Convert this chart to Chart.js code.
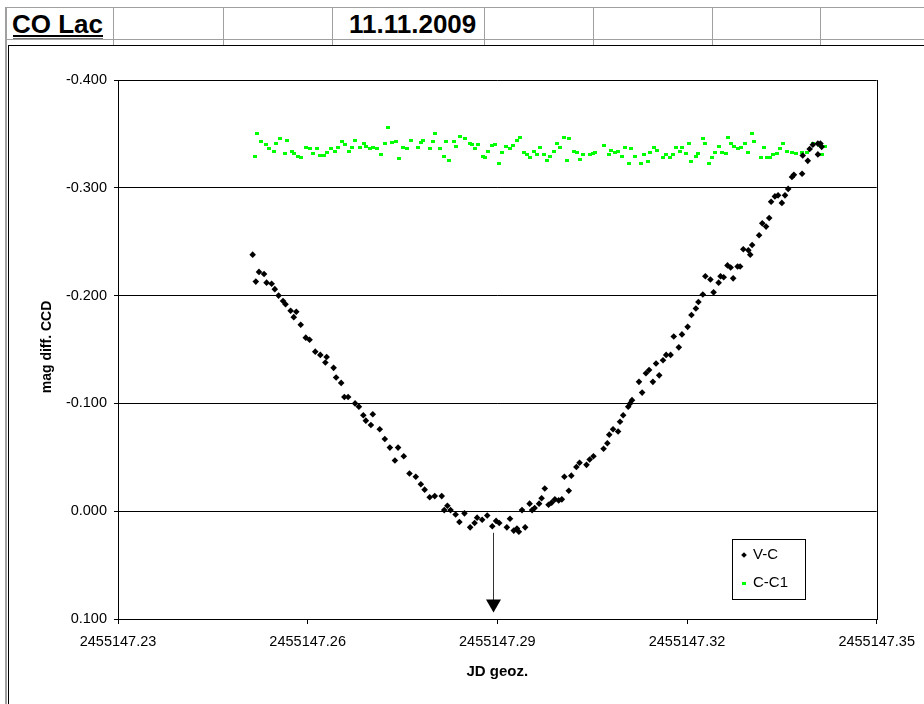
<!DOCTYPE html>
<html>
<head>
<meta charset="utf-8">
<script src="https://cdn.jsdelivr.net/npm/chart.js@4.4.0/dist/chart.umd.min.js"></script>
<style>
html, body { margin: 0; padding: 0; background: #fff; }
#page { position: relative; width: 924px; height: 704px; overflow: hidden; font-family: Arial, 'Liberation Sans', sans-serif; }
.ln { position: absolute; background: #a0a0a0; }
.blk { position: absolute; background: #000; }
.cell { position: absolute; font-weight: bold; font-size: 26px; line-height: 26px; color: #000; white-space: nowrap; }
#wrap { position: absolute; left: 9px; top: 46px; }
</style>
</head>
<body>
<div id="page">
  <div class="cell" style="left:12px; top:11px;">CO Lac</div>
  <div class="blk" style="left:13px; top:35px; width:90px; height:2px;"></div>
  <div class="ln" style="left:13px; top:38px; width:90px; height:1px; background:#707070;"></div>
  <div class="cell" style="left:349px; top:11px;">11.11.2009</div>
  <div id="wrap"><canvas id="c" width="915" height="658"></canvas></div>
</div>
<script>
// sheet header / chart title cells
const sheetCols = [113, 223, 332, 484, 593, 712, 820];

// JD geoz. and magnitude differences
const vcJD = [
  2455147.2513, 2455147.2518, 2455147.2523, 2455147.2531, 2455147.2535, 2455147.2543, 2455147.2548, 2455147.2554, 2455147.2561, 2455147.2565,
  2455147.2573, 2455147.2578, 2455147.2582, 2455147.2589, 2455147.2597, 2455147.2603, 2455147.2612, 2455147.2620, 2455147.2628, 2455147.2630,
  2455147.2641, 2455147.2645, 2455147.2653, 2455147.2658, 2455147.2664, 2455147.2675, 2455147.2681, 2455147.2688, 2455147.2692, 2455147.2700,
  2455147.2703, 2455147.2714, 2455147.2722, 2455147.2730, 2455147.2738, 2455147.2743, 2455147.2752, 2455147.2761, 2455147.2771, 2455147.2779,
  2455147.2785, 2455147.2793, 2455147.2801, 2455147.2812, 2455147.2816, 2455147.2821, 2455147.2826, 2455147.2834, 2455147.2840, 2455147.2848,
  2455147.2857, 2455147.2864, 2455147.2868, 2455147.2876, 2455147.2884, 2455147.2892, 2455147.2898, 2455147.2903, 2455147.2915, 2455147.2920,
  2455147.2926, 2455147.2931, 2455147.2934, 2455147.2939, 2455147.2944, 2455147.2951, 2455147.2955, 2455147.2959, 2455147.2966, 2455147.2970,
  2455147.2975, 2455147.2981, 2455147.2986, 2455147.2991, 2455147.2997, 2455147.3002, 2455147.3006, 2455147.3013, 2455147.3017, 2455147.3025,
  2455147.3030, 2455147.3041, 2455147.3046, 2455147.3052, 2455147.3068, 2455147.3074, 2455147.3077, 2455147.3083, 2455147.3091, 2455147.3094,
  2455147.3099, 2455147.3107, 2455147.3110, 2455147.3113, 2455147.3124, 2455147.3129, 2455147.3135, 2455147.3140, 2455147.3146, 2455147.3151,
  2455147.3156, 2455147.3162, 2455147.3167, 2455147.3174, 2455147.3179, 2455147.3187, 2455147.3192, 2455147.3201, 2455147.3207, 2455147.3214,
  2455147.3218, 2455147.3225, 2455147.3229, 2455147.3237, 2455147.3242, 2455147.3250, 2455147.3253, 2455147.3258, 2455147.3264, 2455147.3269,
  2455147.3273, 2455147.3280, 2455147.3284, 2455147.3289, 2455147.3297, 2455147.3300, 2455147.3303, 2455147.3314, 2455147.3319, 2455147.3325,
  2455147.3330, 2455147.3333, 2455147.3339, 2455147.3344, 2455147.3350, 2455147.3355, 2455147.3360, 2455147.3366, 2455147.3369, 2455147.3382,
  2455147.3383, 2455147.3391, 2455147.3394, 2455147.3399, 2455147.3407, 2455147.3407, 2455147.3411, 2455147.3413
];
const vcMag = [
  -0.238, -0.213, -0.222, -0.220, -0.212, -0.211, -0.206, -0.200, -0.195, -0.192,
  -0.186, -0.180, -0.185, -0.173, -0.161, -0.159, -0.148, -0.145, -0.138, -0.143,
  -0.133, -0.124, -0.119, -0.106, -0.106, -0.100, -0.097, -0.089, -0.084, -0.080,
  -0.090, -0.076, -0.067, -0.059, -0.047, -0.059, -0.051, -0.035, -0.032, -0.025,
  -0.020, -0.013, -0.014, -0.014, -0.001, -0.005, -0.001, 0.003, 0.010, 0.002,
  0.015, 0.011, 0.006, 0.008, 0.004, 0.014, 0.009, 0.011, 0.015, 0.007,
  0.018, 0.016, 0.019, -0.001, 0.015, -0.007, -0.001, -0.003, -0.007, -0.012,
  -0.021, -0.006, -0.008, -0.011, -0.010, -0.011, -0.032, -0.019, -0.033, -0.041,
  -0.045, -0.043, -0.048, -0.051, -0.058, -0.063, -0.071, -0.076, -0.074, -0.083,
  -0.089, -0.097, -0.100, -0.103, -0.120, -0.110, -0.128, -0.131, -0.120, -0.137,
  -0.126, -0.140, -0.145, -0.145, -0.162, -0.152, -0.164, -0.171, -0.182, -0.188,
  -0.194, -0.201, -0.218, -0.215, -0.203, -0.212, -0.218, -0.217, -0.228, -0.226,
  -0.216, -0.227, -0.227, -0.243, -0.242, -0.238, -0.247, -0.256, -0.267, -0.264,
  -0.272, -0.287, -0.292, -0.293, -0.286, -0.293, -0.299, -0.310, -0.312, -0.313,
  -0.330, -0.325, -0.336, -0.340, -0.341, -0.331, -0.341, -0.338
];

const ccJD = [
  2455147.2516, 2455147.2520, 2455147.2526, 2455147.2534, 2455147.2539, 2455147.2546, 2455147.2550, 2455147.2557, 2455147.2564, 2455147.2567,
  2455147.2575, 2455147.2579, 2455147.2584, 2455147.2590, 2455147.2597, 2455147.2603, 2455147.2608, 2455147.2614, 2455147.2620, 2455147.2626,
  2455147.2631, 2455147.2637, 2455147.2644, 2455147.2648, 2455147.2655, 2455147.2659, 2455147.2666, 2455147.2670, 2455147.2675, 2455147.2683,
  2455147.2689, 2455147.2692, 2455147.2699, 2455147.2703, 2455147.2710, 2455147.2716, 2455147.2722, 2455147.2727, 2455147.2733, 2455147.2739,
  2455147.2744, 2455147.2750, 2455147.2757, 2455147.2763, 2455147.2774, 2455147.2780, 2455147.2783, 2455147.2793, 2455147.2798, 2455147.2802,
  2455147.2809, 2455147.2815, 2455147.2818, 2455147.2824, 2455147.2832, 2455147.2835, 2455147.2841, 2455147.2849, 2455147.2856, 2455147.2860,
  2455147.2865, 2455147.2870, 2455147.2878, 2455147.2881, 2455147.2886, 2455147.2892, 2455147.2897, 2455147.2903, 2455147.2907, 2455147.2914,
  2455147.2920, 2455147.2925, 2455147.2931, 2455147.2936, 2455147.2942, 2455147.2947, 2455147.2951, 2455147.2958, 2455147.2962, 2455147.2967,
  2455147.2973, 2455147.2978, 2455147.2983, 2455147.2989, 2455147.2994, 2455147.2999, 2455147.3005, 2455147.3010, 2455147.3014, 2455147.3021,
  2455147.3026, 2455147.3030, 2455147.3036, 2455147.3046, 2455147.3052, 2455147.3055, 2455147.3069, 2455147.3077, 2455147.3080, 2455147.3086,
  2455147.3091, 2455147.3097, 2455147.3102, 2455147.3108, 2455147.3111, 2455147.3118, 2455147.3127, 2455147.3132, 2455147.3138, 2455147.3141,
  2455147.3148, 2455147.3152, 2455147.3162, 2455147.3167, 2455147.3173, 2455147.3178, 2455147.3182, 2455147.3189, 2455147.3192, 2455147.3199,
  2455147.3203, 2455147.3207, 2455147.3214, 2455147.3218, 2455147.3225, 2455147.3229, 2455147.3234, 2455147.3240, 2455147.3244, 2455147.3250,
  2455147.3256, 2455147.3261, 2455147.3265, 2455147.3270, 2455147.3275, 2455147.3281, 2455147.3286, 2455147.3292, 2455147.3297, 2455147.3302,
  2455147.3306, 2455147.3317, 2455147.3321, 2455147.3327, 2455147.3331, 2455147.3336, 2455147.3343, 2455147.3347, 2455147.3352, 2455147.3358,
  2455147.3366, 2455147.3372, 2455147.3382, 2455147.3389, 2455147.3399, 2455147.3410, 2455147.3413, 2455147.3419
];
const ccMag = [
  -0.329, -0.350, -0.343, -0.340, -0.336, -0.334, -0.341, -0.346, -0.332, -0.344,
  -0.334, -0.332, -0.329, -0.328, -0.337, -0.336, -0.332, -0.336, -0.330, -0.330,
  -0.333, -0.336, -0.334, -0.337, -0.343, -0.340, -0.334, -0.337, -0.344, -0.337,
  -0.341, -0.338, -0.336, -0.337, -0.336, -0.331, -0.341, -0.356, -0.342, -0.343,
  -0.327, -0.337, -0.336, -0.344, -0.337, -0.342, -0.344, -0.336, -0.343, -0.350,
  -0.336, -0.329, -0.343, -0.325, -0.343, -0.338, -0.348, -0.346, -0.341, -0.340,
  -0.336, -0.340, -0.329, -0.328, -0.334, -0.339, -0.340, -0.323, -0.333, -0.338,
  -0.336, -0.339, -0.344, -0.347, -0.333, -0.331, -0.328, -0.334, -0.331, -0.337,
  -0.331, -0.325, -0.329, -0.334, -0.341, -0.337, -0.347, -0.325, -0.346, -0.334,
  -0.333, -0.326, -0.331, -0.331, -0.332, -0.333, -0.339, -0.331, -0.335, -0.333,
  -0.334, -0.329, -0.337, -0.323, -0.336, -0.329, -0.323, -0.331, -0.324, -0.333,
  -0.337, -0.335, -0.328, -0.331, -0.328, -0.331, -0.337, -0.334, -0.337, -0.332,
  -0.341, -0.324, -0.329, -0.332, -0.346, -0.341, -0.323, -0.328, -0.333, -0.338,
  -0.333, -0.332, -0.347, -0.341, -0.338, -0.336, -0.337, -0.341, -0.333, -0.350,
  -0.343, -0.328, -0.337, -0.328, -0.328, -0.331, -0.332, -0.336, -0.341, -0.334,
  -0.333, -0.332, -0.333, -0.333, -0.341, -0.339, -0.331, -0.338
];

const xTicks = [2455147.23, 2455147.26, 2455147.29, 2455147.32, 2455147.35];
const yTicks = [-0.4, -0.3, -0.2, -0.1, 0.0, 0.1];

// minimum marker (arrow)
const arrowJD = 2455147.2893;
const arrowFrom = 0.020;
const arrowTip = 0.094;

// --- spreadsheet lines around the chart object
const page = document.getElementById('page');
function addLine(cls, l, t, w, h, bg) {
  const d = document.createElement('div');
  d.className = cls;
  d.style.left = l + 'px'; d.style.top = t + 'px';
  d.style.width = w + 'px'; d.style.height = h + 'px';
  if (bg) d.style.background = bg;
  page.insertBefore(d, page.firstChild);
}
addLine('ln', 6, 7, 918, 1);
addLine('ln', 6, 39, 918, 1);
addLine('ln', 5, 7, 2, 697);
sheetCols.forEach(x => addLine('ln', x, 7, 1, 38));
addLine('blk', 8, 45, 916, 1);
addLine('blk', 8, 45, 1, 659);

const FONT = "Arial, 'Liberation Sans', sans-serif";

// small flat green dash used by Excel for the C-C1 marker
const greenDash = document.createElement('canvas');
greenDash.width = 4; greenDash.height = 3;
(function () {
  const g = greenDash.getContext('2d');
  g.fillStyle = '#00ff00';
  g.fillRect(0, 0, 4, 3);
})();

const plotFrame = {
  id: 'plotFrame',
  afterDraw(chart) {
    const {ctx, chartArea: a} = chart;
    ctx.save();
    ctx.strokeStyle = '#000';
    ctx.lineWidth = 1;
    ctx.beginPath();
    ctx.moveTo(Math.round(a.right) + 0.5, Math.round(a.top));
    ctx.lineTo(Math.round(a.right) + 0.5, Math.round(a.bottom) + 1);
    ctx.stroke();
    ctx.restore();
  }
};

const yTitle = {
  id: 'yTitle',
  afterDraw(chart) {
    const ctx = chart.ctx;
    ctx.save();
    ctx.translate(38, 301);
    ctx.rotate(-Math.PI / 2);
    ctx.font = 'bold 14px ' + FONT;
    ctx.fillStyle = '#000';
    ctx.textAlign = 'center';
    ctx.textBaseline = 'middle';
    ctx.fillText('mag diff. CCD', 0, 0);
    ctx.restore();
  }
};

const arrowMark = {
  id: 'arrowMark',
  afterDatasetsDraw(chart) {
    const {ctx, scales: {x, y}} = chart;
    const px = Math.round(x.getPixelForValue(arrowJD)) + 0.5;
    const y0 = y.getPixelForValue(arrowFrom);
    const y1 = y.getPixelForValue(arrowTip);
    ctx.save();
    ctx.strokeStyle = '#333';
    ctx.lineWidth = 1;
    ctx.beginPath();
    ctx.moveTo(px, y0);
    ctx.lineTo(px, y1 - 12);
    ctx.stroke();
    ctx.fillStyle = '#000';
    ctx.beginPath();
    ctx.moveTo(px - 7.5, y1 - 13);
    ctx.lineTo(px + 7.5, y1 - 13);
    ctx.lineTo(px, y1);
    ctx.closePath();
    ctx.fill();
    ctx.restore();
  }
};

const legendBox = {
  id: 'legendBox',
  afterDraw(chart) {
    const ctx = chart.ctx;
    ctx.save();
    ctx.fillStyle = '#fff';
    ctx.fillRect(723, 493, 73, 60);
    ctx.strokeStyle = '#000';
    ctx.lineWidth = 1;
    ctx.strokeRect(723.5, 493.5, 73, 60);
    chart.data.datasets.forEach((ds, i) => {
      const yy = 509 + i * 28;
      ctx.fillStyle = ds.backgroundColor;
      Chart.helpers.drawPoint(ctx, {pointStyle: ds.pointStyle, radius: ds.pointRadius * 0.85, borderWidth: 0, rotation: 0}, 735, yy);
      ctx.fillStyle = '#000';
      ctx.font = '15px ' + FONT;
      ctx.textAlign = 'left';
      ctx.textBaseline = 'middle';
      ctx.fillText(ds.label, 744, yy);
    });
    ctx.restore();
  }
};

new Chart(document.getElementById('c'), {
  type: 'scatter',
  data: {
    datasets: [
      {
        label: 'V-C',
        data: vcJD.map((x, i) => ({x: x, y: vcMag[i]})),
        pointStyle: 'rectRot',
        pointRadius: 3.3,
        pointHoverRadius: 3.3,
        backgroundColor: '#000',
        borderWidth: 0
      },
      {
        label: 'C-C1',
        data: ccJD.map((x, i) => ({x: x, y: ccMag[i]})),
        pointStyle: greenDash,
        pointRadius: 2.4,
        pointHoverRadius: 2.4,
        backgroundColor: '#00ff00',
        borderWidth: 0
      }
    ]
  },
  options: {
    responsive: false,
    animation: false,
    devicePixelRatio: 1,
    events: [],
    layout: {padding: {left: 0, top: 34, right: 41, bottom: 0}},
    plugins: {legend: {display: false}, tooltip: {enabled: false}},
    scales: {
      x: {
        type: 'linear',
        min: xTicks[0],
        max: xTicks[xTicks.length - 1],
        afterBuildTicks: s => { s.ticks = xTicks.map(v => ({value: v})); },
        afterFit: s => { s.height = 85; },
        grid: {display: true, drawOnChartArea: false, drawTicks: true, tickLength: 5, color: '#000'},
        border: {display: true, color: '#000', width: 1},
        ticks: {
          color: '#000', padding: 9, maxRotation: 0, autoSkip: false,
          font: {family: FONT, size: 14.5},
          callback: v => v.toFixed(2)
        },
        title: {
          display: true, text: 'JD geoz.', color: '#000',
          font: {family: FONT, size: 15, weight: 'bold'},
          padding: {top: 0, bottom: 23}
        }
      },
      y: {
        type: 'linear',
        reverse: true,
        min: yTicks[0],
        max: yTicks[yTicks.length - 1],
        afterBuildTicks: s => { s.ticks = yTicks.map(v => ({value: v})); },
        afterFit: s => { s.width = 109; },
        grid: {color: '#000', tickLength: 4},
        border: {display: true, color: '#000', width: 1},
        ticks: {
          color: '#000', padding: 7,
          font: {family: FONT, size: 14.5},
          callback: v => v.toFixed(3)
        }
      }
    }
  },
  plugins: [plotFrame, arrowMark, legendBox, yTitle]
});
</script>
</body>
</html>
